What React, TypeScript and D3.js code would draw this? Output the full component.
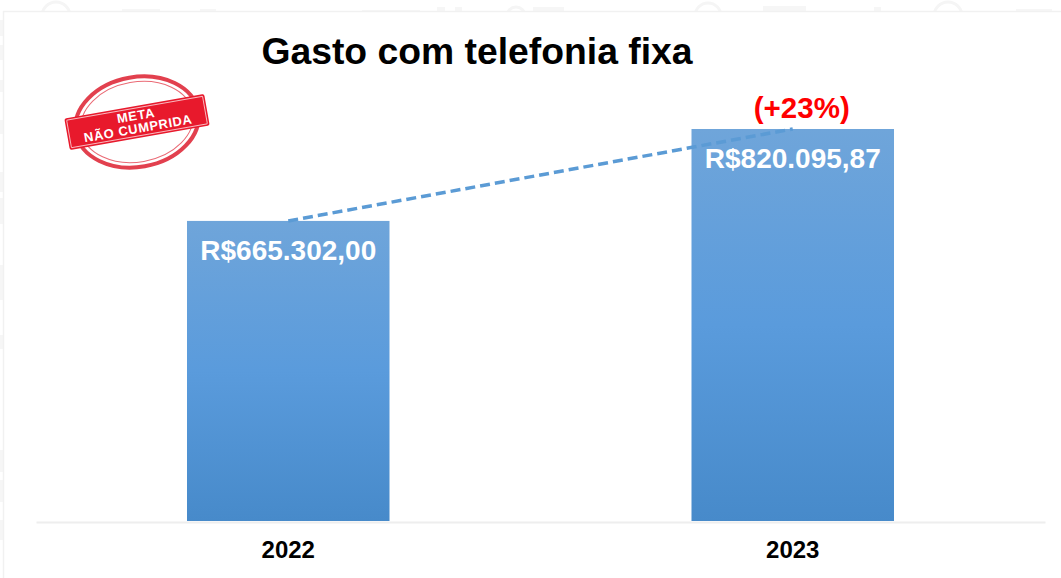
import React, { useEffect, useRef } from 'react';
import { select, scaleBand, scaleLinear, axisBottom, line } from 'd3';

const years = ['2022', '2023'];
const values = [665302.0, 820095.87];
const valueLabels = ['R$665.302,00', 'R$820.095,87'];
const axisStart = 160000; // the axis in the original does not start at zero
const title = 'Gasto com telefonia fixa';
const changeLabel = '(+23%)';
const stampLines = ['META', 'NÃO CUMPRIDA'];

// faint remains of the slide background, peeking out round the chart
const topArcs = [[56, 14], [516, 9], [708, 13], [948, 14]];
const topBlocks = [[122, 38, 2], [200, 16, 2], [362, 58, 1], [437, 8, 4], [455, 7, 4], [533, 25, 4], [556, 8, 4], [763, 43, 5], [874, 7, 4], [1016, 36, 2]];
const leftBlocks = [[20, 16], [45, 15], [80, 12], [120, 14], [172, 20], [198, 26], [265, 35], [335, 14], [450, 22], [480, 22], [520, 20]];

const width = 1061;
const height = 578;
const font = '"Liberation Sans", Arial, sans-serif';

export default function App() {
  const svgRef = useRef<SVGSVGElement>(null);

  useEffect(() => {
    const svg = select(svgRef.current);
    svg.selectAll('*').remove();

    const xScale = scaleBand().domain(years).range([36, 1045])
      .paddingInner(0.5986).paddingOuter(0.2993);
    const yScale = scaleLinear().domain([axisStart, values[1]]).range([521, 129]);
    const xMid = (year: string) => xScale(year) + xScale.bandwidth() / 2;

    const defs = svg.append('defs');
    const grad = defs.append('linearGradient').attr('id', 'barFill')
      .attr('x1', 0).attr('y1', 0).attr('x2', 0).attr('y2', 1);
    grad.append('stop').attr('offset', '0%').attr('stop-color', '#6fa5da');
    grad.append('stop').attr('offset', '50%').attr('stop-color', '#5a9bdc');
    grad.append('stop').attr('offset', '100%').attr('stop-color', '#478aca');
    defs.append('clipPath').attr('id', 'topStrip').append('rect')
      .attr('width', width).attr('height', 11);

    svg.append('rect').attr('width', width).attr('height', height).attr('fill', '#fff');

    const back = svg.append('g').attr('fill', '#f6f6f6');
    back.append('g').attr('clip-path', 'url(#topStrip)').selectAll('circle').data(topArcs).join('circle')
      .attr('cx', d => d[0]).attr('cy', 16).attr('r', d => d[1])
      .attr('fill', 'none').attr('stroke', '#f5f5f5').attr('stroke-width', 3);
    back.selectAll('.top-block').data(topBlocks).join('rect').attr('class', 'top-block')
      .attr('x', d => d[0]).attr('y', d => 11 - d[2]).attr('width', d => d[1]).attr('height', d => d[2]);
    back.selectAll('.left-block').data(leftBlocks).join('rect').attr('class', 'left-block')
      .attr('x', 0).attr('y', d => d[0]).attr('width', 3).attr('height', d => d[1]);

    // faint frame of the slide behind the chart
    svg.append('path').attr('d', 'M3.5,578V11.5H1061')
      .attr('fill', 'none').attr('stroke', '#f1f1f1').attr('stroke-width', 1.5);

    svg.append('text').attr('x', 477).attr('y', 64).attr('text-anchor', 'middle')
      .attr('font-family', font).attr('font-weight', 700).attr('font-size', 37.3)
      .attr('fill', '#000').text(title);

    svg.selectAll('.bar').data(values).join('rect').attr('class', 'bar')
      .attr('x', (d, i) => xScale(years[i]))
      .attr('y', d => yScale(d))
      .attr('width', xScale.bandwidth())
      .attr('height', d => yScale(axisStart) - yScale(d))
      .attr('fill', 'url(#barFill)');

    // axis
    const axis = svg.append('g').attr('transform', 'translate(0,522)')
      .call(axisBottom(xScale).tickSize(0).tickPadding(19));
    axis.select('.domain').attr('stroke', '#eeeeee').attr('stroke-width', 2);
    axis.selectAll('text').attr('font-family', font).attr('font-weight', 700)
      .attr('font-size', 24).attr('fill', '#000');

    // trend line between the bar tops
    const trend = line<number>()
      .x((d, i) => xMid(years[i]))
      .y(d => yScale(d));
    svg.append('path').attr('d', trend(values)).attr('fill', 'none')
      .attr('stroke', '#5b9bd5').attr('stroke-width', 3.5)
      .attr('stroke-dasharray', '10 5');

    svg.selectAll('.val').data(values).join('text').attr('class', 'val')
      .attr('x', (d, i) => xMid(years[i]))
      .attr('y', d => yScale(d) + 39)
      .attr('text-anchor', 'middle')
      .attr('font-family', font).attr('font-weight', 700).attr('font-size', 28)
      .attr('fill', '#fff')
      .text((d, i) => valueLabels[i]);

    svg.append('text')
      .attr('x', xMid('2023') + 9)
      .attr('y', yScale(values[1]) - 11)
      .attr('text-anchor', 'middle')
      .attr('font-family', font).attr('font-weight', 700).attr('font-size', 29.5)
      .attr('fill', '#ff0000').text(changeLabel);

    // stamp
    const stamp = svg.append('g').attr('transform', 'translate(137,122) rotate(-10)');
    stamp.append('ellipse').attr('rx', 62).attr('ry', 45).attr('fill', 'none')
      .attr('stroke', '#e2404e').attr('stroke-width', 4);
    stamp.append('ellipse').attr('rx', 56.5).attr('ry', 40).attr('fill', 'none')
      .attr('stroke', '#ea6a75').attr('stroke-width', 1);
    stamp.append('rect').attr('x', -71).attr('y', -16).attr('width', 142).attr('height', 32)
      .attr('rx', 2).attr('fill', '#e8192c');
    stamp.append('rect').attr('x', -69).attr('y', -14).attr('width', 138).attr('height', 28)
      .attr('rx', 1).attr('fill', 'none').attr('stroke', '#f8b8be').attr('stroke-width', 1);
    stamp.selectAll('.stamp-text').data(stampLines).join('text').attr('class', 'stamp-text')
      .attr('x', 0)
      .attr('y', (d, i) => -2 + i * 13)
      .attr('text-anchor', 'middle')
      .attr('font-family', font).attr('font-weight', 700).attr('font-size', 13)
      .attr('letter-spacing', 0.6)
      .attr('fill', '#fff').text(d => d);
  }, []);

  return (
    <svg
      ref={svgRef}
      width={width}
      height={height}
      style={{ position: 'absolute', left: 0, top: 0 }}
    />
  );
}
